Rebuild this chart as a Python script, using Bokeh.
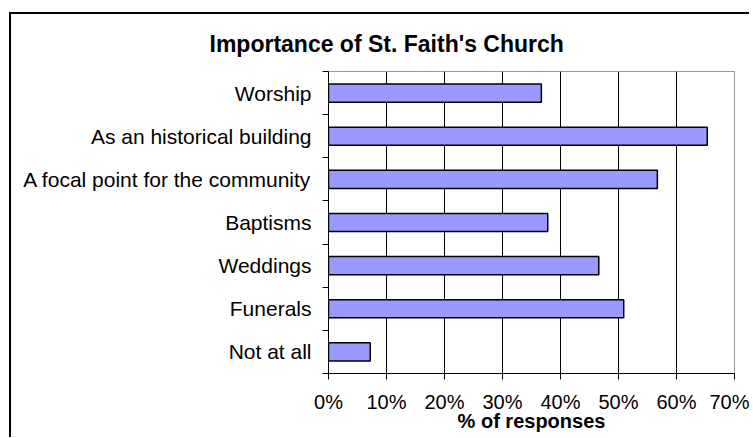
from bokeh.plotting import figure
from bokeh.models import (FactorRange, Range1d, LinearAxis, FixedTicker,
                          NumeralTickFormatter, Title, ColumnDataSource,
                          CustomLabelingPolicy)
from bokeh.embed import file_html
from bokeh.resources import INLINE

# ---- data ----
categories = ["Worship", "As an historical building",
              "A focal point for the community", "Baptisms",
              "Weddings", "Funerals", "Not at all"]
percent = [0.367, 0.653, 0.567, 0.378, 0.466, 0.509, 0.072]
x_ticks = [0.0, 0.1, 0.2, 0.3, 0.4, 0.5, 0.6, 0.7]
title_text = "Importance of St. Faith's Church"
x_label = "% of responses"

FONT = "Liberation Sans"

factors = list(reversed(categories))
source = ColumnDataSource(dict(cat=categories, value=percent))

p = figure(y_range=FactorRange(factors=factors),
           x_range=Range1d(x_ticks[0], x_ticks[-1]),
           frame_width=406, frame_height=302,
           min_border_left=317, min_border_right=15,
           min_border_top=56, min_border_bottom=64,
           output_backend="svg", toolbar_location=None,
           background_fill_color="white", border_fill_color="white")

p.styles = {"border-top": "2px solid #000", "border-left": "2px solid #000",
            "margin-top": "12px", "margin-left": "9px"}

p.hbar(y="cat", right="value", left=0, height=0.42, source=source,
       fill_color="#9999ff", line_color="black", line_width=1.5)

# title
t = Title(text=title_text, align="left", offset=-119,
          text_font=FONT, text_font_size="23px", text_font_style="bold",
          text_color="black", standoff=29)
p.add_layout(t, "above")

# x axis
xa = p.xaxis[0]
xa.ticker = FixedTicker(ticks=x_ticks)
xa.formatter = NumeralTickFormatter(format="0%")
xa.major_label_text_font = FONT
xa.major_label_text_font_size = "20px"
xa.major_label_text_color = "black"
xa.major_tick_out = 6
xa.major_tick_in = 0
xa.major_tick_line_color = "black"
xa.minor_tick_line_color = None
xa.axis_line_color = "black"
xa.major_label_standoff = 11
xa.axis_label = x_label
xa.axis_label_text_font = FONT
xa.axis_label_text_font_size = "20px"
xa.axis_label_text_font_style = "bold"
xa.axis_label_text_color = "black"
xa.axis_label_standoff = -6

# grid
p.xgrid.ticker = FixedTicker(ticks=x_ticks[1:-1])
p.xgrid.grid_line_color = "black"
p.xgrid.grid_line_width = 1
p.ygrid.grid_line_color = None
p.outline_line_color = "#999999"
p.outline_line_width = 1

# categorical y axis (labels only)
ya = p.yaxis[0]
ya.major_tick_line_color = None
ya.axis_line_color = None
ya.major_label_text_font = FONT
ya.major_label_text_font_size = "21px"
ya.major_label_text_color = "black"
ya.major_label_standoff = -4

# boundary ticks between categories (synthetic coordinates of the factor range)
no_labels = CustomLabelingPolicy(code="""
for (const i of indices)
  indices.unset(i)
return indices
""")
tick_axis = LinearAxis(ticker=FixedTicker(ticks=list(range(len(categories) + 1))),
                       major_label_policy=no_labels,
                       major_label_standoff=0,
                       major_tick_out=6, major_tick_in=0,
                       major_tick_line_color="black",
                       minor_tick_line_color=None,
                       axis_line_color="black")
p.add_layout(tick_axis, "left")
p.left = [tick_axis] + [a for a in p.left if a is not tick_axis]

open("out.html", "w").write(file_html(p, INLINE))
